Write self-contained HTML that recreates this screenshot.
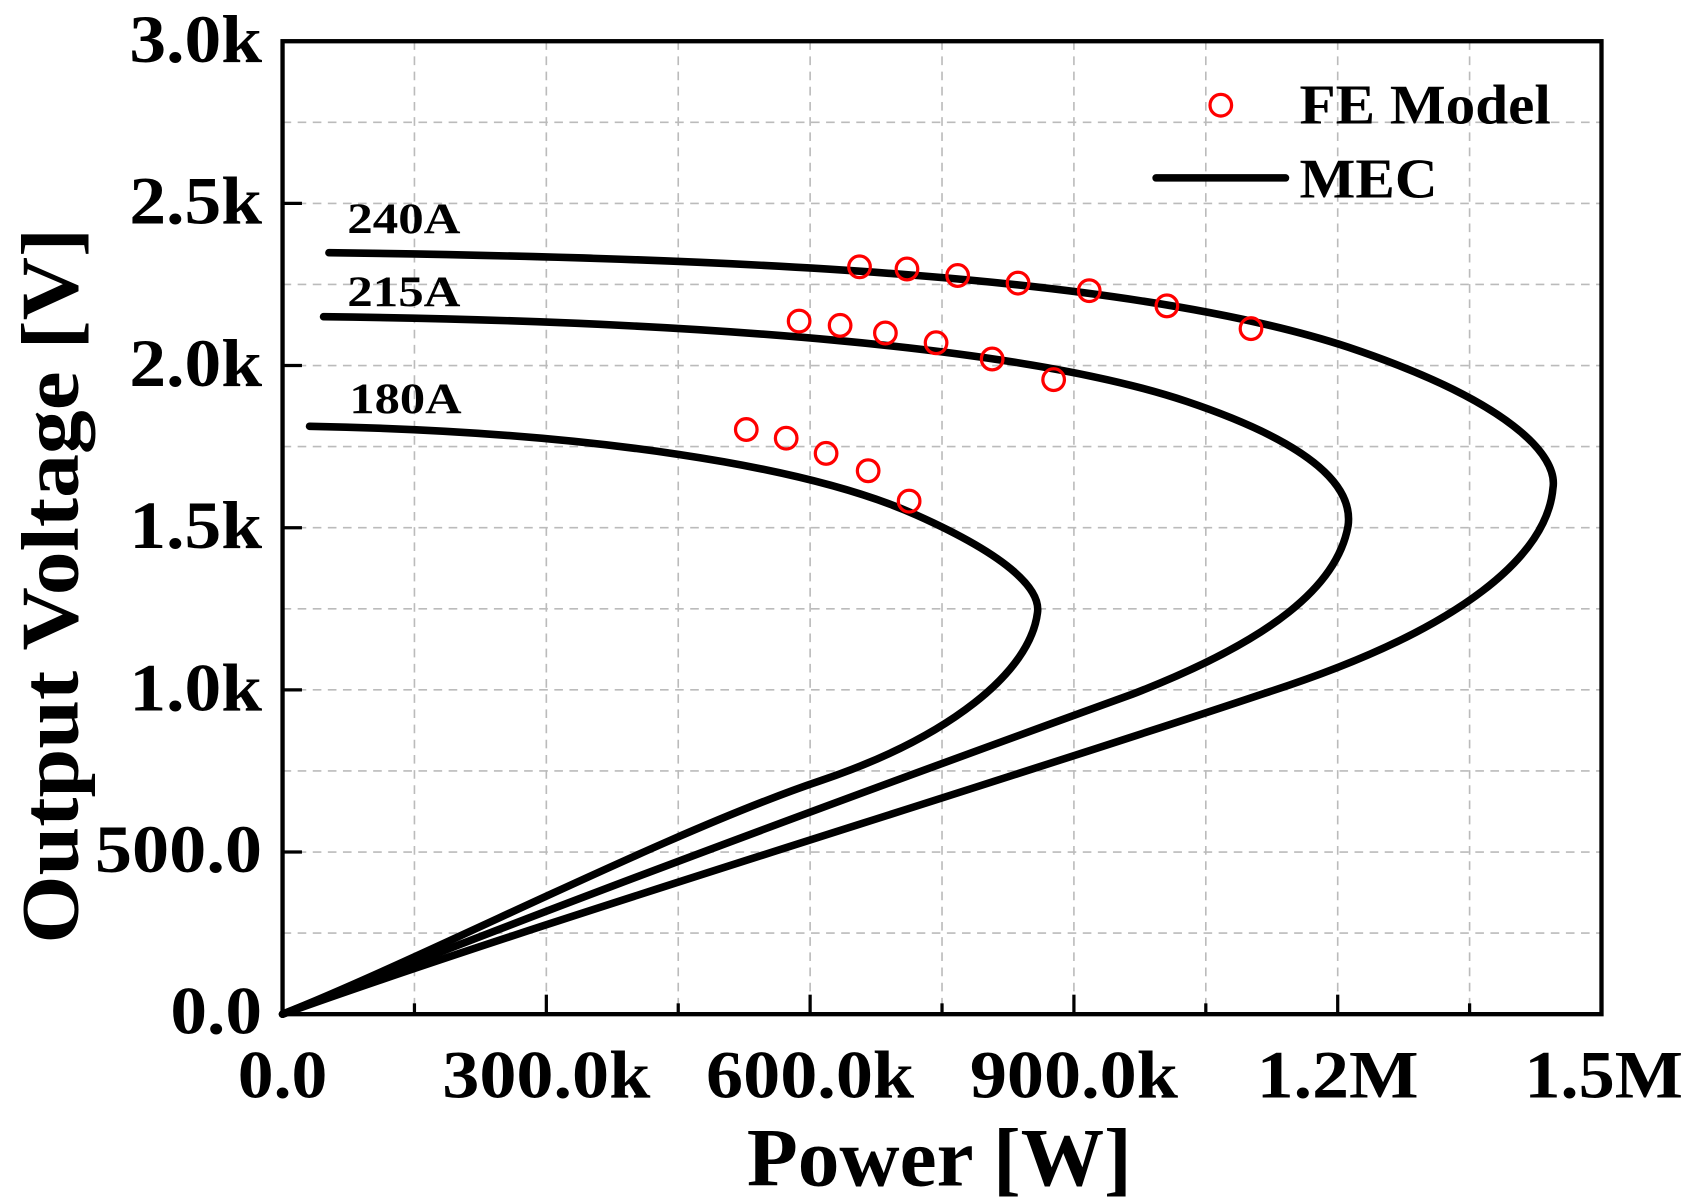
<!DOCTYPE html>
<html><head><meta charset="utf-8"><style>
html,body{margin:0;padding:0;background:#fff;}
svg{display:block;}
text{font-family:"Liberation Serif",serif;font-weight:bold;fill:#000;}
</style></head><body>
<svg width="1691" height="1204" viewBox="0 0 1568 1110" preserveAspectRatio="none" xmlns="http://www.w3.org/2000/svg">
<g stroke="#bbb" stroke-width="1.5" stroke-dasharray="8,6" fill="none">
<line x1="384.3" y1="38" x2="384.3" y2="935"/><line x1="506.6" y1="38" x2="506.6" y2="935"/><line x1="628.9" y1="38" x2="628.9" y2="935"/><line x1="751.2" y1="38" x2="751.2" y2="935"/><line x1="873.5" y1="38" x2="873.5" y2="935"/><line x1="995.8" y1="38" x2="995.8" y2="935"/><line x1="1118.1" y1="38" x2="1118.1" y2="935"/><line x1="1240.4" y1="38" x2="1240.4" y2="935"/><line x1="1362.7" y1="38" x2="1362.7" y2="935"/>
<line x1="262" y1="860.25" x2="1485" y2="860.25"/><line x1="262" y1="785.5" x2="1485" y2="785.5"/><line x1="262" y1="710.75" x2="1485" y2="710.75"/><line x1="262" y1="636" x2="1485" y2="636"/><line x1="262" y1="561.25" x2="1485" y2="561.25"/><line x1="262" y1="486.5" x2="1485" y2="486.5"/><line x1="262" y1="411.75" x2="1485" y2="411.75"/><line x1="262" y1="337" x2="1485" y2="337"/><line x1="262" y1="262.25" x2="1485" y2="262.25"/><line x1="262" y1="187.5" x2="1485" y2="187.5"/><line x1="262" y1="112.75" x2="1485" y2="112.75"/>
</g>
<rect x="262" y="38" width="1223" height="897" fill="none" stroke="#000" stroke-width="4"/>
<g stroke="#000" stroke-width="3">
<line x1="384.3" y1="935" x2="384.3" y2="925"/><line x1="506.6" y1="935" x2="506.6" y2="917"/><line x1="628.9" y1="935" x2="628.9" y2="925"/><line x1="751.2" y1="935" x2="751.2" y2="917"/><line x1="873.5" y1="935" x2="873.5" y2="925"/><line x1="995.8" y1="935" x2="995.8" y2="917"/><line x1="1118.1" y1="935" x2="1118.1" y2="925"/><line x1="1240.4" y1="935" x2="1240.4" y2="917"/><line x1="1362.7" y1="935" x2="1362.7" y2="925"/>
<line x1="262" y1="785.5" x2="280" y2="785.5"/><line x1="262" y1="636" x2="280" y2="636"/><line x1="262" y1="486.5" x2="280" y2="486.5"/><line x1="262" y1="337" x2="280" y2="337"/><line x1="262" y1="187.5" x2="280" y2="187.5"/>
</g>
<g fill="none" stroke="#000" stroke-width="7" stroke-linecap="round">
<path d="M305,233 C700,238 1050,255 1250,320 C1400,370 1445,420 1440,450 C1435,510 1360,580 1170,640 C900,730 500,850 262,935"/>
<path d="M300,292 C650,296 950,320 1100,370 C1220,410 1255,450 1250,485 C1240,540 1180,590 1050,640 C800,730 500,840 262,935"/>
<path d="M287,393 C550,398 750,430 850,475 C940,515 965,545 962,565 C955,620 880,680 760,720 C620,767 400,880 262,935"/>
<line x1="1072" y1="164" x2="1192" y2="164"/>
</g>
<g fill="none" stroke="#f00" stroke-width="3">
<circle cx="797" cy="246" r="10"/><circle cx="841" cy="248" r="10"/><circle cx="888" cy="254" r="10"/><circle cx="944" cy="261" r="10"/><circle cx="1010" cy="268" r="10"/><circle cx="1082" cy="282" r="10"/><circle cx="1160" cy="303" r="10"/>
<circle cx="741" cy="296" r="10"/><circle cx="779" cy="300" r="10"/><circle cx="821" cy="307" r="10"/><circle cx="868" cy="316" r="10"/><circle cx="920" cy="331" r="10"/><circle cx="977" cy="350" r="10"/>
<circle cx="692" cy="396" r="10"/><circle cx="729" cy="404" r="10"/><circle cx="766" cy="418" r="10"/><circle cx="805" cy="434" r="10"/><circle cx="843" cy="462" r="10"/>
<circle cx="1132" cy="97" r="10"/>
</g>
<text x="1205" y="114" font-size="52" textLength="233" lengthAdjust="spacingAndGlyphs">FE Model</text>
<text x="1205" y="182" font-size="52" textLength="128" lengthAdjust="spacingAndGlyphs">MEC</text>
<text x="322" y="215" font-size="40" textLength="105" lengthAdjust="spacingAndGlyphs">240A</text>
<text x="322" y="282" font-size="40" textLength="105" lengthAdjust="spacingAndGlyphs">215A</text>
<text x="324" y="381" font-size="40" textLength="104" lengthAdjust="spacingAndGlyphs">180A</text>
<g font-size="62" text-anchor="end" lengthAdjust="spacingAndGlyphs">
<text x="243" y="953" textLength="85" lengthAdjust="spacingAndGlyphs">0.0</text><text x="243" y="804" textLength="155" lengthAdjust="spacingAndGlyphs">500.0</text><text x="243" y="655" textLength="123" lengthAdjust="spacingAndGlyphs">1.0k</text><text x="243" y="505" textLength="123" lengthAdjust="spacingAndGlyphs">1.5k</text><text x="243" y="356" textLength="123" lengthAdjust="spacingAndGlyphs">2.0k</text><text x="243" y="206" textLength="123" lengthAdjust="spacingAndGlyphs">2.5k</text><text x="243" y="57" textLength="123" lengthAdjust="spacingAndGlyphs">3.0k</text>
</g>
<g font-size="62" text-anchor="middle">
<text x="262" y="1012" textLength="83" lengthAdjust="spacingAndGlyphs">0.0</text><text x="506.6" y="1012" textLength="193" lengthAdjust="spacingAndGlyphs">300.0k</text><text x="751.2" y="1012" textLength="193" lengthAdjust="spacingAndGlyphs">600.0k</text><text x="995.8" y="1012" textLength="193" lengthAdjust="spacingAndGlyphs">900.0k</text><text x="1240.4" y="1012" textLength="150" lengthAdjust="spacingAndGlyphs">1.2M</text><text x="1487" y="1012" textLength="147" lengthAdjust="spacingAndGlyphs">1.5M</text>
</g>
<text x="871" y="1093" font-size="76" text-anchor="middle" textLength="357" lengthAdjust="spacingAndGlyphs">Power [W]</text>
<text transform="translate(72,540) rotate(-90)" font-size="76" text-anchor="middle" textLength="660" lengthAdjust="spacingAndGlyphs">Output Voltage [V]</text>
</svg>
</body></html>
